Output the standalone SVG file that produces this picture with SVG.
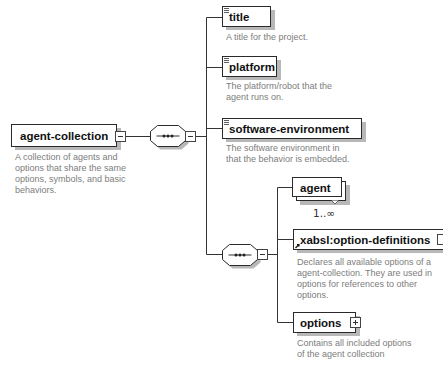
<svg xmlns="http://www.w3.org/2000/svg" width="443" height="365" viewBox="0 0 443 365">
  <defs>
    <style>
      .box { fill: #ffffff; stroke: #2a2a2a; stroke-width: 1; }
      .shadow { fill: #b8b8b8; }
      .name { font-family: "Liberation Sans", Arial, sans-serif; font-weight: bold; font-size: 11.5px; fill: #111111; }
      .doc { font-family: "Liberation Sans", Arial, sans-serif; font-size: 9px; fill: #7d7d7d; }
      .card { font-family: "DejaVu Sans", "Liberation Sans", sans-serif; font-size: 10.5px; fill: #333333; }
      .wire { fill: none; stroke: #333333; stroke-width: 1; }
      .toggle { fill: #ffffff; stroke: #444444; stroke-width: 1; }
      .sign { stroke: #333333; stroke-width: 1; }
      .icon { stroke: #333333; stroke-width: 0.8; }
    </style>
    <!-- sequence compositor: octagon with a dotted line -->
    <g id="seq">
      <polygon points="7,0 28,0 35,6 35,15 28,21 7,21 0,15 0,6" class="shadow" transform="translate(3,3)"/>
      <polygon points="7,0 28,0 35,6 35,15 28,21 7,21 0,15 0,6" class="box"/>
      <line x1="6" y1="10.5" x2="29" y2="10.5" class="sign"/>
      <circle cx="13.5" cy="10.5" r="1.5" fill="#222"/>
      <circle cx="17.5" cy="10.5" r="1.5" fill="#222"/>
      <circle cx="21.5" cy="10.5" r="1.5" fill="#222"/>
    </g>
    <!-- simple-content marker in the top-left corner of an element -->
    <g id="simple">
      <line x1="0" y1="0.5" x2="5" y2="0.5" class="icon"/>
      <line x1="0" y1="2.5" x2="5" y2="2.5" class="icon"/>
      <line x1="0" y1="4.5" x2="5" y2="4.5" class="icon"/>
    </g>
  </defs>

  <rect width="443" height="365" fill="#ffffff"/>

  <!-- connectors -->
  <g id="connectors">
    <line x1="126" y1="136.5" x2="150" y2="136.5" class="wire"/>
    <line x1="196" y1="136.5" x2="206.5" y2="136.5" class="wire"/>
    <polyline points="222,17.5 206.5,17.5 206.5,254.5 222,254.5" class="wire"/>
    <line x1="206.5" y1="67.5" x2="222" y2="67.5" class="wire"/>
    <line x1="206.5" y1="128.5" x2="222" y2="128.5" class="wire"/>
    <line x1="267" y1="254.5" x2="277.5" y2="254.5" class="wire"/>
    <polyline points="292,187.5 277.5,187.5 277.5,322.5 293,322.5" class="wire"/>
    <line x1="277.5" y1="239.5" x2="293" y2="239.5" class="wire"/>
  </g>

  <!-- root element -->
  <g id="agent-collection">
    <rect x="15" y="128" width="106" height="22" class="shadow"/>
    <rect x="11.5" y="124.5" width="105" height="22" class="box"/>
    <text x="20" y="140" class="name">agent-collection</text>
    <rect x="115.5" y="131.5" width="10" height="10" class="toggle"/>
    <line x1="118" y1="136.5" x2="123" y2="136.5" class="sign"/>
    <text class="doc">
      <tspan x="15" y="160">A collection of agents and</tspan>
      <tspan x="15" y="171">options that share the same</tspan>
      <tspan x="15" y="182">options, symbols, and basic</tspan>
      <tspan x="15" y="193">behaviors.</tspan>
    </text>
  </g>

  <!-- first sequence -->
  <g id="sequence-1">
    <use href="#seq" x="150.5" y="125.5"/>
    <rect x="185.5" y="131.5" width="10" height="10" class="toggle"/>
    <line x1="188" y1="136.5" x2="193" y2="136.5" class="sign"/>
  </g>

  <g id="title">
    <rect x="226" y="10" width="49" height="20" class="shadow"/>
    <rect x="222.5" y="6.5" width="48" height="20" class="box"/>
    <use href="#simple" x="224" y="8"/>
    <text x="229" y="21" class="name">title</text>
    <text x="226" y="40" class="doc">A title for the project.</text>
  </g>

  <g id="platform">
    <rect x="226" y="60" width="55" height="20" class="shadow"/>
    <rect x="222.5" y="56.5" width="54" height="20" class="box"/>
    <use href="#simple" x="224" y="58"/>
    <text x="229" y="71" class="name">platform</text>
    <text class="doc">
      <tspan x="226" y="89">The platform/robot that the</tspan>
      <tspan x="226" y="100">agent runs on.</tspan>
    </text>
  </g>

  <g id="software-environment">
    <rect x="226" y="122" width="140" height="20" class="shadow"/>
    <rect x="222.5" y="118.5" width="139" height="20" class="box"/>
    <use href="#simple" x="224" y="120"/>
    <text x="229" y="133" class="name">software-environment</text>
    <text class="doc">
      <tspan x="226" y="151">The software environment in</tspan>
      <tspan x="226" y="162">that the behavior is embedded.</tspan>
    </text>
  </g>

  <!-- second sequence -->
  <g id="sequence-2">
    <use href="#seq" x="222.5" y="244.5"/>
    <rect x="257.5" y="249.5" width="10" height="10" class="toggle"/>
    <line x1="260" y1="254.5" x2="265" y2="254.5" class="sign"/>
  </g>

  <g id="agent">
    <rect x="300" y="185" width="50" height="20" class="shadow"/>
    <rect x="296.5" y="181.5" width="49" height="19" class="box"/>
    <rect x="292.5" y="177.5" width="49" height="19" class="box"/>
    <text x="300" y="192" class="name">agent</text>
    <polyline points="331.5,200.5 335,204 338.5,200.5" fill="#ffffff" stroke="#444" stroke-width="0.8"/>
    <text x="313" y="217" class="card">1..∞</text>
  </g>

  <g id="xabsl-option-definitions">
    <rect x="297" y="233" width="150" height="20" class="shadow"/>
    <rect x="293.5" y="229.5" width="150" height="20" class="box"/>
    <path d="M295.5,248 L299,244.5 M297,244.5 L299,244.5 L299,246.5" stroke="#111" stroke-width="1.2" fill="none"/>
    <text x="300" y="244" class="name">xabsl:option-definitions</text>
    <rect x="437.5" y="234.5" width="10" height="10" class="toggle"/>
    <text class="doc">
      <tspan x="297" y="265">Declares all available options of a</tspan>
      <tspan x="297" y="276">agent-collection. They are used in</tspan>
      <tspan x="297" y="287">options for references to other</tspan>
      <tspan x="297" y="298">options.</tspan>
    </text>
  </g>

  <g id="options">
    <rect x="297" y="316" width="63" height="20" class="shadow"/>
    <rect x="293.5" y="312.5" width="62" height="20" class="box"/>
    <text x="300" y="327" class="name">options</text>
    <rect x="350.5" y="317.5" width="10" height="10" class="toggle"/>
    <line x1="353" y1="322.5" x2="358" y2="322.5" class="sign"/>
    <line x1="355.5" y1="320" x2="355.5" y2="325" class="sign"/>
    <text class="doc">
      <tspan x="297" y="346">Contains all included options</tspan>
      <tspan x="297" y="357">of the agent collection</tspan>
    </text>
  </g>
</svg>
